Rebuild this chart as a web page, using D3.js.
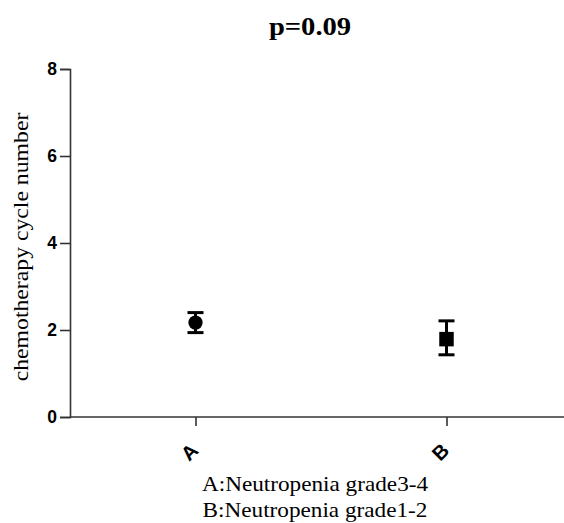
<!DOCTYPE html>
<html>
<head>
<meta charset="utf-8">
<script src="https://cdn.jsdelivr.net/npm/d3@7"></script>
<style>
  body { margin: 0; background: #fff; }
  svg { display: block; }
</style>
</head>
<body>
<svg id="chart" width="564" height="523"></svg>
<script>
// values
const groups = ["A", "B"];
const means = [2.17, 1.79];
const errLow = [1.94, 1.43];
const errHigh = [2.40, 2.21];
const markers = ["circle", "square"];
const yTicks = [0, 2, 4, 6, 8];
const captionLines = ["A:Neutropenia grade3-4", "B:Neutropenia grade1-2"];

const svg = d3.select("#chart");
const margin = {top: 69, left: 70, bottom: 106};
const width = 564, height = 523;
const plotH = height - margin.top - margin.bottom;

// A and B sit 251px apart, half a step in from the y axis
const x = d3.scalePoint()
    .domain(groups)
    .range([margin.left, margin.left + 502])
    .padding(0.5);

const y = d3.scaleLinear()
    .domain([0, 8])
    .range([margin.top + plotH, margin.top]);

// the serif texts in the original look a bit wider than the font, stretch them
const serifStretch = 1.13;

// y axis
const yAxis = svg.append("g")
    .attr("transform", `translate(${margin.left},0)`)
    .call(d3.axisLeft(y).tickValues(yTicks).tickSize(10).tickPadding(3));
yAxis.select(".domain").attr("stroke", "#333").attr("stroke-width", 1.6);
yAxis.selectAll(".tick line").attr("stroke", "#333").attr("stroke-width", 1.6);
yAxis.selectAll("text")
    .attr("font-family", "Liberation Sans, Arial, sans-serif")
    .attr("font-weight", "bold")
    .attr("font-size", 17.5)
    .attr("fill", "#000");

// x axis
const xAxis = svg.append("g")
    .attr("transform", `translate(0,${y(0)})`)
    .call(d3.axisBottom(x).tickSize(9).tickSizeOuter(0).tickFormat(""));
xAxis.select(".domain").attr("stroke", "#333").attr("stroke-width", 1.6)
    .attr("d", `M${margin.left},0H${width}`);
xAxis.selectAll(".tick line").attr("stroke", "#333").attr("stroke-width", 1.6);

// rotated category labels
svg.append("g").selectAll("text")
    .data(groups)
    .join("text")
    .attr("transform", d => `translate(${x(d) - 6},${y(0) + 35}) rotate(-45)`)
    .attr("text-anchor", "middle")
    .attr("dominant-baseline", "central")
    .attr("font-family", "Liberation Sans, Arial, sans-serif")
    .attr("font-weight", "bold")
    .attr("font-size", 20)
    .text(d => d);

// error bars
const capW = 8;
const eb = svg.append("g").attr("stroke", "#000").attr("stroke-width", 3);
groups.forEach((g, i) => {
    const cx = x(g);
    eb.append("line").attr("x1", cx).attr("x2", cx)
        .attr("y1", y(errLow[i])).attr("y2", y(errHigh[i]));
    eb.append("line").attr("x1", cx - capW).attr("x2", cx + capW)
        .attr("y1", y(errLow[i])).attr("y2", y(errLow[i]));
    eb.append("line").attr("x1", cx - capW).attr("x2", cx + capW)
        .attr("y1", y(errHigh[i])).attr("y2", y(errHigh[i]));
});

// mean markers
svg.append("g").selectAll("path")
    .data(groups)
    .join("path")
    .attr("transform", (d, i) => `translate(${x(d)},${y(means[i])})`)
    .attr("d", (d, i) => d3.symbol()
        .type(markers[i] === "circle" ? d3.symbolCircle : d3.symbolSquare)
        .size(markers[i] === "circle" ? 160 : 210)())
    .attr("fill", "#000");

// y label
svg.append("text")
    .attr("transform", `translate(28,247) rotate(-90) scale(${serifStretch},1)`)
    .attr("text-anchor", "middle")
    .attr("font-family", "Liberation Serif, Times New Roman, serif")
    .attr("font-size", 21)
    .text("chemotherapy cycle number");

// title
svg.append("text")
    .attr("transform", `translate(310,35) scale(1.1,1)`)
    .attr("text-anchor", "middle")
    .attr("font-family", "Liberation Serif, Times New Roman, serif")
    .attr("font-weight", "bold")
    .attr("font-size", 26)
    .text("p=0.09");

// caption
svg.append("g").selectAll("text")
    .data(captionLines)
    .join("text")
    .attr("transform", (d, i) => `translate(315,${491 + i * 26}) scale(1.08,1)`)
    .attr("text-anchor", "middle")
    .attr("font-family", "Liberation Serif, Times New Roman, serif")
    .attr("font-size", 21.5)
    .text(d => d);
</script>
</body>
</html>
